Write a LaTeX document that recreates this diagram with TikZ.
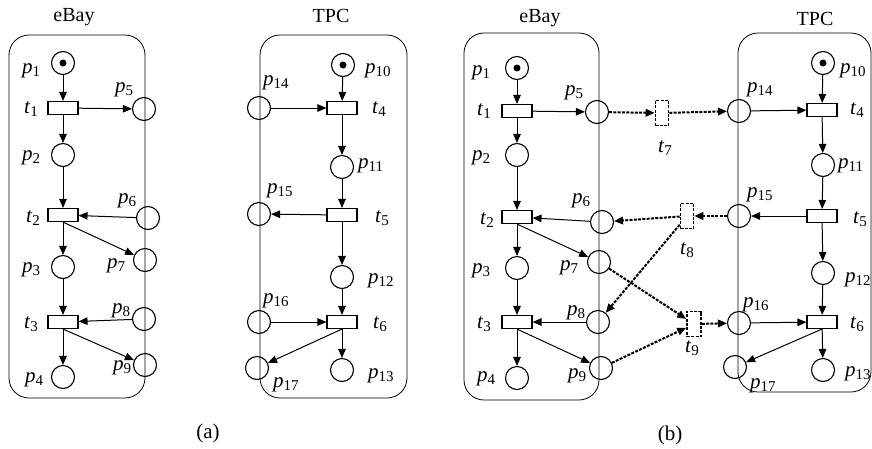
\documentclass[tikz,border=0pt]{standalone}
\usepackage{fontspec}
\setmainfont{Liberation Serif}
\usetikzlibrary{arrows.meta}

\newcommand{\nlab}[2]{\textit{#1}\raisebox{-3.5pt}{\fontsize{15}{15}\selectfont #2}}

\begin{document}
\begin{tikzpicture}[
  x=1pt, y=-1pt,
  >={Triangle[length=9pt,width=7.5pt]},
  every node/.style={font=\fontsize{21}{24}\selectfont},
  place/.style={draw, circle, line width=1.1pt, minimum size=23pt, inner sep=0pt},
  token/.style={fill, circle, minimum size=7pt, inner sep=0pt},
  trans/.style={draw, rectangle, line width=1.1pt, minimum width=30pt,
                minimum height=13pt, inner sep=0pt},
  newtrans/.style={draw, rectangle, line width=1.6pt, dash pattern=on 3pt off 1.3pt,
                   minimum width=13pt, minimum height=25pt, inner sep=0pt},
  arc/.style={->, line width=1pt},
  newarc/.style={->, line width=2pt, dash pattern=on 3pt off 1.3pt},
  lbl/.style={anchor=base west, inner sep=0pt},
  title/.style={anchor=base, inner sep=0pt, font=\fontsize{20}{24}\selectfont},
  net/.style={draw, rounded corners=20pt, line width=0.8pt}
]
\useasboundingbox (0,0) rectangle (872,448);

% ---- (a) eBay ----
\draw[net] (9,35) rectangle (145,398);
\node[title] (aebay) at (74,21) {eBay};
\node[place] (ap1) at (63,63) {};
\node[token] (ap1tok) at (ap1) {};
\node[trans] (at1) at (63,108) {};
\node[place] (ap5) at (144,109) {};
\node[place] (ap2) at (63,155) {};
\node[trans] (at2) at (63,215) {};
\node[place] (ap6) at (148,218) {};
\node[place] (ap7) at (145,260) {};
\node[place] (ap3) at (63,267) {};
\node[trans] (at3) at (63,322) {};
\node[place] (ap8) at (144,319) {};
\node[place] (ap9) at (145,365) {};
\node[place] (ap4) at (63,377) {};

\node[lbl] (ap1l) at (22,73) {\nlab{p}{1}};
\node[lbl] (at1l) at (24,113) {\nlab{t}{1}};
\node[lbl] (ap2l) at (22,160) {\nlab{p}{2}};
\node[lbl] (at2l) at (26,222) {\nlab{t}{2}};
\node[lbl] (ap3l) at (22,272) {\nlab{p}{3}};
\node[lbl] (at3l) at (24,328) {\nlab{t}{3}};
\node[lbl] (ap4l) at (25,382) {\nlab{p}{4}};
\node[lbl] (ap5l) at (115,92) {\nlab{p}{5}};
\node[lbl] (ap6l) at (118,203) {\nlab{p}{6}};
\node[lbl] (ap7l) at (107,268) {\nlab{p}{7}};
\node[lbl] (ap8l) at (112,313) {\nlab{p}{8}};
\node[lbl] (ap9l) at (113,370) {\nlab{p}{9}};

\draw[arc] (ap1) -- (at1);
\draw[arc] (at1) -- (ap2);
\draw[arc] (at1) -- (ap5);
\draw[arc] (ap2) -- (at2);
\draw[arc] (ap6) -- (at2);
\draw[arc] (at2) -- (ap3);
\draw[arc] (at2.south) -- (ap7);
\draw[arc] (ap3) -- (at3);
\draw[arc] (ap8) -- (at3);
\draw[arc] (at3) -- (ap4);
\draw[arc] (at3.south) -- (ap9);

% ---- (a) TPC ----
\draw[net] (260,35) rectangle (407,398);
\node[title] (atpc) at (331,22) {TPC};
\node[place] (ap10) at (343,65) {};
\node[token] (ap10tok) at (ap10) {};
\node[place] (ap14) at (259,108) {};
\node[trans] (at4) at (342,108) {};
\node[place] (ap11) at (342,167) {};
\node[place] (ap15) at (259,214) {};
\node[trans] (at5) at (342,215) {};
\node[place] (ap12) at (342,277) {};
\node[place] (ap16) at (259,322) {};
\node[trans] (at6) at (342,322) {};
\node[place] (ap17) at (257,368) {};
\node[place] (ap13) at (342,370) {};

\node[lbl] (ap10l) at (365,73) {\nlab{p}{10}};
\node[lbl] (ap14l) at (263,85) {\nlab{p}{14}};
\node[lbl] (at4l) at (372,113) {\nlab{t}{4}};
\node[lbl] (ap11l) at (358,168) {\nlab{p}{11}};
\node[lbl] (ap15l) at (267,193) {\nlab{p}{15}};
\node[lbl] (at5l) at (375,222) {\nlab{t}{5}};
\node[lbl] (ap12l) at (368,283) {\nlab{p}{12}};
\node[lbl] (ap16l) at (263,303) {\nlab{p}{16}};
\node[lbl] (at6l) at (373,328) {\nlab{t}{6}};
\node[lbl] (ap17l) at (273,387) {\nlab{p}{17}};
\node[lbl] (ap13l) at (368,378) {\nlab{p}{13}};

\draw[arc] (ap10) -- (at4);
\draw[arc] (ap14) -- (at4);
\draw[arc] (at4) -- (ap11);
\draw[arc] (ap11) -- (at5);
\draw[arc] (at5) -- (ap15);
\draw[arc] (at5) -- (ap12);
\draw[arc] (ap12) -- (at6);
\draw[arc] (ap16) -- (at6);
\draw[arc] (at6) -- (ap13);
\draw[arc] (at6.south) -- (ap17);

\node (acap) at (208,433) {(a)};

% ---- (b) eBay ----
\draw[net] (464,33) rectangle (599,400);
\node[title] (bebay) at (540,22) {eBay};
\node[place] (bp1) at (517,68) {};
\node[token] (bp1tok) at (bp1) {};
\node[trans] (bt1) at (517,111) {};
\node[place] (bp5) at (597,112) {};
\node[place] (bp2) at (517,155) {};
\node[trans] (bt2) at (517,217) {};
\node[place] (bp6) at (602,222) {};
\node[place] (bp7) at (599,262) {};
\node[place] (bp3) at (517,268) {};
\node[trans] (bt3) at (517,322) {};
\node[place] (bp8) at (598,322) {};
\node[place] (bp9) at (601,368) {};
\node[place] (bp4) at (517,378) {};

\node[lbl] (bp1l) at (472,75) {\nlab{p}{1}};
\node[lbl] (bt1l) at (477,115) {\nlab{t}{1}};
\node[lbl] (bp2l) at (472,160) {\nlab{p}{2}};
\node[lbl] (bt2l) at (480,224) {\nlab{t}{2}};
\node[lbl] (bp3l) at (472,273) {\nlab{p}{3}};
\node[lbl] (bt3l) at (477,328) {\nlab{t}{3}};
\node[lbl] (bp4l) at (477,381) {\nlab{p}{4}};
\node[lbl] (bp5l) at (565,95) {\nlab{p}{5}};
\node[lbl] (bp6l) at (572,203) {\nlab{p}{6}};
\node[lbl] (bp7l) at (560,270) {\nlab{p}{7}};
\node[lbl] (bp8l) at (567,315) {\nlab{p}{8}};
\node[lbl] (bp9l) at (568,378) {\nlab{p}{9}};

\draw[arc] (bp1) -- (bt1);
\draw[arc] (bt1) -- (bp2);
\draw[arc] (bt1) -- (bp5);
\draw[arc] (bp2) -- (bt2);
\draw[arc] (bp6) -- (bt2);
\draw[arc] (bt2) -- (bp3);
\draw[arc] (bt2.south) -- (bp7);
\draw[arc] (bp3) -- (bt3);
\draw[arc] (bp8) -- (bt3);
\draw[arc] (bt3) -- (bp4);
\draw[arc] (bt3.south) -- (bp9);

% ---- (b) TPC ----
\draw[net] (738,33) rectangle (871,392);
\node[title] (btpc) at (815,25) {TPC};
\node[place] (bp10) at (823,63) {};
\node[token] (bp10tok) at (bp10) {};
\node[place] (bp14) at (739,111) {};
\node[trans] (bt4) at (822,110) {};
\node[place] (bp11) at (823,165) {};
\node[place] (bp15) at (739,216) {};
\node[trans] (bt5) at (822,216) {};
\node[place] (bp12) at (823,273) {};
\node[place] (bp16) at (739,323) {};
\node[trans] (bt6) at (822,322) {};
\node[place] (bp17) at (735,367) {};
\node[place] (bp13) at (823,370) {};

\node[lbl] (bp10l) at (840,73) {\nlab{p}{10}};
\node[lbl] (bp14l) at (747,92) {\nlab{p}{14}};
\node[lbl] (bt4l) at (850,114) {\nlab{t}{4}};
\node[lbl] (bp11l) at (838,168) {\nlab{p}{11}};
\node[lbl] (bp15l) at (747,197) {\nlab{p}{15}};
\node[lbl] (bt5l) at (853,223) {\nlab{t}{5}};
\node[lbl] (bp12l) at (845,282) {\nlab{p}{12}};
\node[lbl] (bp16l) at (743,307) {\nlab{p}{16}};
\node[lbl] (bt6l) at (850,328) {\nlab{t}{6}};
\node[lbl] (bp17l) at (750,388) {\nlab{p}{17}};
\node[lbl] (bp13l) at (845,376) {\nlab{p}{13}};

\draw[arc] (bp10) -- (bt4);
\draw[arc] (bp14) -- (bt4);
\draw[arc] (bt4) -- (bp11);
\draw[arc] (bp11) -- (bt5);
\draw[arc] (bt5) -- (bp15);
\draw[arc] (bt5) -- (bp12);
\draw[arc] (bp12) -- (bt6);
\draw[arc] (bp16) -- (bt6);
\draw[arc] (bt6) -- (bp13);
\draw[arc] (bt6.south) -- (bp17);

% ---- (b) new transitions between the two nets ----
\node[newtrans] (bt7) at (662,113) {};
\node[newtrans] (bt8) at (687,216) {};
\node[newtrans, minimum width=14pt] (bt9) at (694,324) {};
\node[lbl] (bt7l) at (658,152) {\nlab{t}{7}};
\node[lbl] (bt8l) at (680,254) {\nlab{t}{8}};
\node[lbl] (bt9l) at (685,352) {\nlab{t}{9}};

\draw[newarc] (bp5) -- (bt7);
\draw[newarc] (bt7) -- (bp14);
\draw[newarc] (bp15) -- (bt8);
\draw[newarc] (bt8) -- (bp6);
\draw[newarc] (bt8) -- (bp8);
\draw[newarc] (bp7) -- (bt9);
\draw[newarc] (bp9) -- (bt9);
\draw[newarc] (bt9) -- (bp16);

\node (bcap) at (670,435) {(b)};
\end{tikzpicture}
\end{document}
